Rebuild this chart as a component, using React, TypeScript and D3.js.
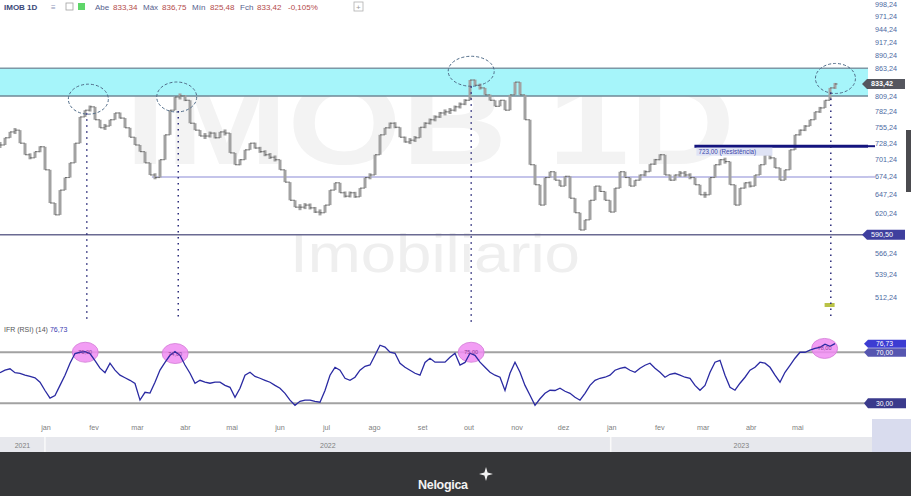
import React from "react";
import * as d3 from "d3";

const W = 911;
const H = 496;

// sampled closes (one sample every ~3.2 calendar days, starting 2021-12-03)
const SAMPLE_START = new Date(2021, 11, 3);
const SAMPLE_STEP_DAYS = 3.2258;

const closes = [
  725, 737, 747, 750, 728, 709, 704, 714, 722, 685,
  635, 618, 654, 673, 696, 728, 773, 785, 791, 768,
  754, 757, 768, 780, 771, 754, 738, 725, 714, 696,
  677, 673, 701, 742, 785, 809, 811, 803, 762, 750,
  740, 740, 745, 737, 747, 745, 712, 693, 701, 717,
  728, 720, 714, 709, 705, 701, 685, 666, 639, 629,
  629, 632, 628, 622, 621, 632, 654, 665, 650, 645,
  650, 644, 657, 673, 677, 709, 742, 754, 762, 755,
  738, 730, 733, 737, 755, 762, 768, 773, 780, 782,
  785, 791, 796, 803, 841, 831, 826, 813, 803, 792,
  803, 785, 813, 837, 813, 768, 693, 662, 632, 673,
  682, 669, 660, 675, 642, 621, 597, 611, 639, 660,
  652, 639, 622, 657, 682, 673, 660, 669, 677, 682,
  694, 701, 709, 677, 669, 677, 680, 677, 673, 662,
  647, 647, 673, 693, 701, 698, 662, 632, 657, 665,
  660, 677, 693, 709, 704, 688, 669, 685, 717, 742,
  750, 757, 768, 782, 789, 803, 826, 833.42,
];

const rsi = [
  54, 56, 57, 54, 53.5, 52, 51, 50, 46.5, 40,
  34, 36, 44, 52, 61.4, 69, 70, 70.5, 69, 63.5,
  57.5, 54, 61.4, 56, 52, 50, 48, 45.5, 32.5, 38.6,
  38, 46.5, 56, 62, 67.6, 70.5, 67.6, 60, 53.5, 45.7,
  48, 46.5, 45.7, 46.5, 46.5, 44, 42.5, 34.7, 41.8, 52,
  54.3, 51, 49.6, 48, 46.5, 44, 41.8, 37.8, 32.4, 28.4,
  31.5, 32.4, 32.4, 31.5, 30.8, 40, 52, 58.2, 55.9, 49.6,
  48, 50.4, 55.9, 59, 60, 67.6, 75.5, 74, 70, 69.2,
  61.4, 58.2, 55.9, 53.5, 52, 62, 65.3, 62.2, 62.2, 62.2,
  66, 69.2, 60, 62, 69.2, 67.6, 62.2, 58.2, 54.3, 52,
  50.4, 40, 53.5, 62.2, 54.3, 44, 36.3, 28.4, 33.5, 37.8,
  40.2, 40, 41.8, 39.4, 37.8, 34.7, 32.4, 37.8, 44, 48,
  49.6, 50.4, 52, 55.9, 57.4, 58.2, 55.9, 54.3, 57.4, 59.8,
  61.4, 57.4, 54.3, 50.4, 52.7, 53.5, 52, 50.4, 49.6, 44,
  40.2, 44, 54.3, 62.2, 63.7, 52, 42.5, 40.2, 45.7, 50.4,
  55.9, 58.2, 62.2, 61.4, 58.2, 52, 46.5, 54.3, 59.8, 65.3,
  70, 70, 71.6, 73.1, 73.9, 76.3, 74.7, 76.73,
];

const priceTicks = [
  998.24, 971.24, 944.24, 917.24, 890.24, 863.24, 809.24, 782.24, 755.24,
  728.24, 701.24, 674.24, 647.24, 620.24, 566.24, 539.24, 512.24,
];

const monthTicks: [string, string][] = [
  ["2022-01-01", "jan"], ["2022-02-01", "fev"], ["2022-03-01", "mar"],
  ["2022-04-01", "abr"], ["2022-05-01", "mai"], ["2022-06-01", "jun"],
  ["2022-07-01", "jul"], ["2022-08-01", "ago"], ["2022-09-01", "set"],
  ["2022-10-01", "out"], ["2022-11-01", "nov"], ["2022-12-01", "dez"],
  ["2023-01-01", "jan"], ["2023-02-01", "fev"], ["2023-03-01", "mar"],
  ["2023-04-01", "abr"], ["2023-05-01", "mai"],
];

const yearLabels = ["2021", "2022", "2023"];
const yearStarts = ["2021-12-01", "2022-01-01", "2023-01-01"];

// horizontal studies
const bandLow = 811;
const bandHigh = 864;
const supportMid = 674;
const supportLow = 590.5;
const resistance = 723;
const resistanceStart = "2023-02-24";
const supportMidStart = "2022-03-11";

// marked tops
const topDates = ["2022-01-29", "2022-03-27", "2022-10-03", "2023-05-26"];
const topValues = [805, 809, 858, 844];
const dropDates = ["2022-01-28", "2022-03-28", "2022-10-03", "2023-05-23"];
const rsiMarkDates = ["2022-01-27", "2022-03-26", "2022-10-03", "2023-05-19"];
const rsiMarkValues = [70, 69, 70, 73];

const lastClose = 833.42;
const lastRsi = 76.73;

const FONT = "'Liberation Sans', Arial, sans-serif";

const fmt = (v: number) => v.toFixed(2).replace(".", ",");
const pd = (s: string) => {
  const [a, b, c] = s.split("-").map(Number);
  return new Date(a, b - 1, c);
};

export default function App() {
  const plotRight = 868;
  const x = d3
    .scaleTime()
    .domain([new Date(2021, 11, 3), new Date(2023, 5, 16)])
    .range([0, plotRight]);
  const y = d3.scaleLog().domain([488.3, 1009.7]).range([318, 0]);
  const yr = d3.scaleLinear().domain([0, 100]).range([441.5, 314]);

  const dates = closes.map(
    (_, i) => new Date(SAMPLE_START.getTime() + i * SAMPLE_STEP_DAYS * 86400000)
  );

  const rsiLine = d3
    .line<number>()
    .x((_, i) => x(dates[i]))
    .y((d) => yr(d));

  const bars = closes.map((c, i) => {
    const prev = i > 0 ? closes[i - 1] : c;
    const cx = x(dates[i]);
    let top = Math.min(y(prev), y(c));
    let bot = Math.max(y(prev), y(c));
    if (bot - top < 6) {
      const m = (top + bot) / 2;
      top = m - 3;
      bot = m + 3;
    }
    return { cx, top, bot, yo: y(prev), yc: y(c) };
  });

  const yearBounds = yearStarts.map((s) => x(pd(s)));
  const rx0 = x(pd(resistanceStart));

  return (
    <div style={{ position: "fixed", left: 0, top: 0, width: W, height: H }}>
      <svg width={W} height={H} style={{ display: "block", background: "#fff" }} fontFamily={FONT}>
        <defs>
          <clipPath id="pclip">
            <rect x={0} y={0} width={plotRight} height={318} />
          </clipPath>
        </defs>

        {/* watermark */}
        <text x={430} y={164} textAnchor="middle" fontSize={118} fontWeight="bold" fill="#f3f3f3"
          textLength={610} lengthAdjust="spacingAndGlyphs">IMOB 1D</text>
        <text x={435} y={272} textAnchor="middle" fontSize={54} fill="#efefef"
          textLength={290} lengthAdjust="spacingAndGlyphs">Imobiliario</text>

        <g clipPath="url(#pclip)">
          {/* resistance band */}
          <rect x={0} y={y(bandHigh)} width={plotRight} height={y(bandLow) - y(bandHigh)} fill="#a6f5fa" />
          <line x1={0} x2={plotRight} y1={y(bandHigh)} y2={y(bandHigh)} stroke="#7d98a6" strokeWidth={1.5} />
          <line x1={0} x2={plotRight} y1={y(bandLow)} y2={y(bandLow)} stroke="#6e8796" strokeWidth={1.5} />

          {/* support lines */}
          <line x1={x(pd(supportMidStart))} x2={plotRight} y1={y(supportMid)} y2={y(supportMid)} stroke="#c4c4ea" strokeWidth={2} />
          <line x1={0} x2={plotRight} y1={y(supportLow)} y2={y(supportLow)} stroke="#6a6a92" strokeWidth={1.6} />

          {/* price bars */}
          {bars.map((b, i) => (
            <g key={i}>
              <rect x={b.cx - 1.5} y={b.top} width={3} height={b.bot - b.top} fill="#a2a2a2" />
              <line x1={b.cx - 2.5} x2={b.cx} y1={b.yo} y2={b.yo} stroke="#7a7a7a" strokeWidth={1} />
              <line x1={b.cx} x2={b.cx + 2.5} y1={b.yc} y2={b.yc} stroke="#666" strokeWidth={1} />
            </g>
          ))}

          {/* resistance line */}
          <line x1={rx0} x2={plotRight} y1={y(resistance)} y2={y(resistance)} stroke="#14147e" strokeWidth={3} />
          <rect x={rx0 + 2} y={y(resistance) + 1.5} width={76} height={8} fill="#dfe3f5" />
          <text x={rx0 + 4} y={y(resistance) + 8} fontSize={6.3} fill="#3b46a8">
            723,00 (Resistência)
          </text>

          {/* marked tops */}
          {topDates.map((d, i) => (
            <ellipse key={i} cx={x(pd(d))} cy={y(topValues[i])} rx={i === 2 ? 23 : 20} ry={15}
              fill="none" stroke="#4f6b88" strokeWidth={1} strokeDasharray="3,2" />
          ))}

          {/* small marker */}
          <rect x={x(pd("2023-05-19"))} y={303} width={10} height={4} fill="#b9c247" />
        </g>

        {/* dotted drops */}
        {dropDates.map((d, i) => {
          const xx = x(pd(d));
          const y0 = y(topValues[i]) + (i === 2 ? 15 : 14);
          return (
            <line key={i} x1={xx} x2={xx} y1={y0} y2={i === 2 ? 325 : 320} stroke="#2b2b7a"
              strokeWidth={1.5} strokeDasharray="1.5,4.5" />
          );
        })}

        {/* header */}
        <g fontSize={8}>
          <text x={4} y={10} fontWeight="bold" fill="#3b4878">IMOB 1D</text>
          <text x={51} y={10} fill="#8a94b8">≡</text>
          <rect x={66} y={3} width={7} height={7} fill="none" stroke="#a0a0a0" strokeWidth={0.8} />
          <rect x={78} y={3} width={7} height={7} fill="#5fd66a" />
          <text y={10}>
            <tspan x={95} fill="#55608e">Abe</tspan>
            <tspan x={113} fill="#b34a4a">833,34</tspan>
            <tspan x={143} fill="#55608e">Máx</tspan>
            <tspan x={162} fill="#b34a4a">836,75</tspan>
            <tspan x={192} fill="#55608e">Mín</tspan>
            <tspan x={210} fill="#b34a4a">825,48</tspan>
            <tspan x={240} fill="#55608e">Fch</tspan>
            <tspan x={257} fill="#b34a4a">833,42</tspan>
            <tspan x={288} fill="#b34a4a">-0,105%</tspan>
          </text>
          <rect x={354} y={2} width={9} height={9} fill="none" stroke="#b0b0b0" strokeWidth={0.8} />
          <text x={356} y={10} fontSize={8} fill="#999">+</text>
        </g>

        {/* price axis */}
        <g fontSize={7.2} fill="#4c6aa2">
          {priceTicks.map((t) => (
            <text key={t} x={875} y={y(t) + 2.5}>{fmt(t)}</text>
          ))}
        </g>
        <line x1={plotRight} x2={875} y1={y(resistance)} y2={y(resistance)} stroke="#14147e" strokeWidth={2} />
        <line x1={plotRight} x2={875} y1={y(supportMid)} y2={y(supportMid)} stroke="#c4c4ea" strokeWidth={2} />
        <rect x={906} y={130} width={5} height={62} fill="#4b4b4f" />
        {/* last price box */}
        <polygon points={`${862},${y(lastClose)} ${867},${y(lastClose) - 5} ${905},${y(lastClose) - 5} ${905},${y(lastClose) + 5} ${867},${y(lastClose) + 5}`} fill="#55565e" />
        <text x={871} y={y(lastClose) + 2.5} fontSize={7.2} fill="#fff" fontWeight="bold">{fmt(lastClose)}</text>
        {/* support box */}
        <polygon points={`${862},${y(supportLow)} ${867},${y(supportLow) - 5} ${905},${y(supportLow) - 5} ${905},${y(supportLow) + 5} ${867},${y(supportLow) + 5}`} fill="#3f3f9e" />
        <text x={871} y={y(supportLow) + 2.5} fontSize={7.2} fill="#fff">{fmt(supportLow)}</text>

        {/* RSI panel */}
        <text x={4} y={332} fontSize={7} fill="#555">
          IFR (RSI) (14) <tspan fill="#3a3ab0">{fmt(lastRsi)}</tspan>
        </text>
        <line x1={0} x2={plotRight} y1={yr(70)} y2={yr(70)} stroke="#a2a2a2" strokeWidth={2} />
        <line x1={0} x2={plotRight} y1={yr(30)} y2={yr(30)} stroke="#a2a2a2" strokeWidth={2} />
        {rsiMarkDates.map((d, i) => (
          <g key={i}>
            <ellipse cx={x(pd(d))} cy={yr(rsiMarkValues[i])} rx={13} ry={10} fill="#f08cf2" fillOpacity={0.85} stroke="#d27ad6" strokeWidth={0.8} />
          </g>
        ))}
        <path d={rsiLine(rsi) ?? ""} fill="none" stroke="#2a2aa2" strokeWidth={1.3} />
        {rsiMarkDates.map((d, i) => (
          <text key={i} x={x(pd(d))} y={yr(rsiMarkValues[i]) + 2} textAnchor="middle" fontSize={5.5} fill="#8a3a9a">
            {fmt(rsiMarkValues[i] + 5)}
          </text>
        ))}
        <polygon points={`864,${yr(lastRsi)} 868,${yr(lastRsi) - 4} 906,${yr(lastRsi) - 4} 906,${yr(lastRsi) + 4} 868,${yr(lastRsi) + 4}`} fill="#3c3cd2" />
        <text x={876} y={yr(lastRsi) + 2.5} fontSize={6.8} fill="#fff">{fmt(lastRsi)}</text>
        <polygon points={`864,${yr(70)} 868,${yr(70) - 4} 906,${yr(70) - 4} 906,${yr(70) + 4.5} 868,${yr(70) + 4.5}`} fill="#5656b0" />
        <text x={876} y={yr(70) + 3} fontSize={6.8} fill="#fff">70,00</text>
        <polygon points={`864,${yr(30)} 868,${yr(30) - 5} 906,${yr(30) - 5} 906,${yr(30) + 5} 868,${yr(30) + 5}`} fill="#3a3a8c" />
        <text x={876} y={yr(30) + 2.5} fontSize={6.8} fill="#fff">30,00</text>

        {/* time axis */}
        <g fontSize={7.2} fill="#808080">
          {monthTicks.map(([d, l], i) => (
            <text key={i} x={x(pd(d)) + 1} y={430} textAnchor="middle">{l}</text>
          ))}
        </g>
        <rect x={0} y={437} width={872} height={15} fill="#e7e8ed" />
        {yearBounds.slice(1).map((b, i) => (
          <line key={i} x1={b} x2={b} y1={437} y2={452} stroke="#fafafa" strokeWidth={1.5} />
        ))}
        {yearLabels.map((l, i) => {
          const a = Math.max(0, yearBounds[i]);
          const b = i + 1 < yearBounds.length ? yearBounds[i + 1] : 872;
          return (
            <text key={l} x={(a + b) / 2} y={447.5} textAnchor="middle" fontSize={7} fill="#808080">{l}</text>
          );
        })}
        <rect x={872} y={419} width={39} height={33} fill="#d9dcee" />

        {/* footer */}
        <rect x={0} y={452} width={W} height={44} fill="#353638" />
        <text x={418} y={489} fontSize={12.5} fontWeight="bold" fill="#f2f2f2" letterSpacing={-0.3}>Nelogica</text>
        <path d="M486,467 L487.6,472.4 L493,474 L487.6,475.6 L486,481 L484.4,475.6 L479,474 L484.4,472.4 Z" fill="#f2f2f2" />
      </svg>
    </div>
  );
}
